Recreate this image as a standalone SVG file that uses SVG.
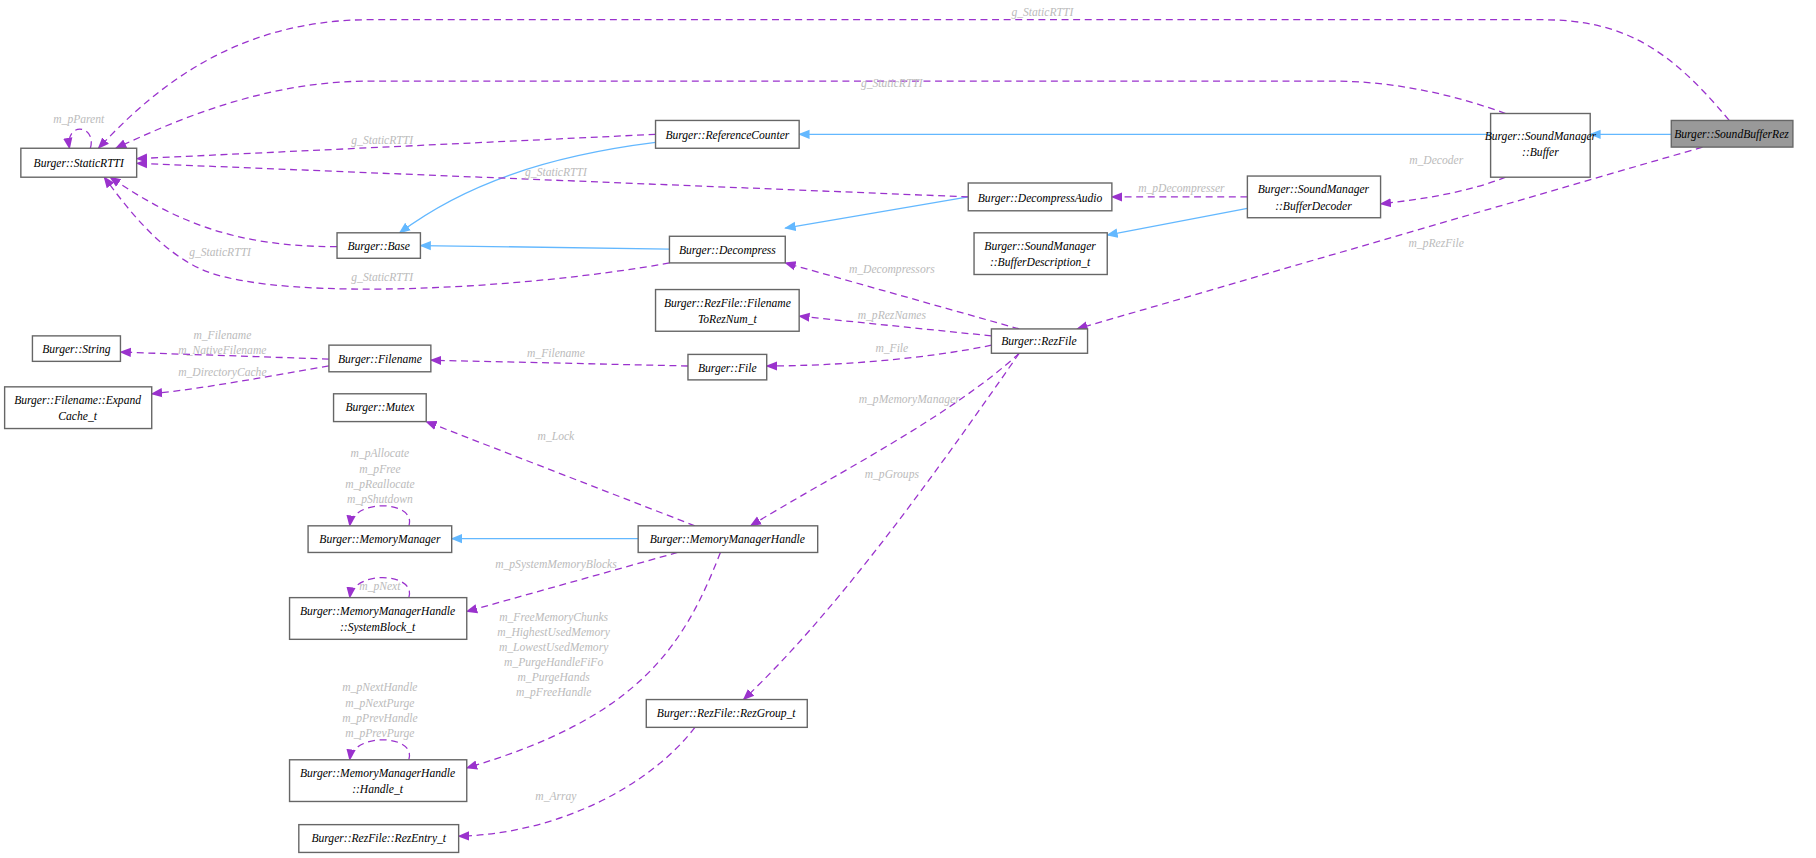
<svg xmlns="http://www.w3.org/2000/svg" width="1816" height="858" viewBox="0 0 1816 858">
<style>
.n rect{fill:#fff;stroke:#666;stroke-width:1.2}
.n text,.l{font-family:"Liberation Serif",serif;font-style:italic;font-size:10px;text-anchor:middle}
.l{fill:#bbb}
.d{fill:none;stroke:#9a32cd;stroke-dasharray:6,4;stroke-width:1.1;marker-end:url(#ap)}
.b{fill:none;stroke:#63b8ff;stroke-width:1.1;marker-end:url(#ab)}
</style>
<defs>
<marker id="ap" viewBox="0 0 10 10" refX="9" refY="5" markerWidth="10" markerHeight="10" markerUnits="userSpaceOnUse" orient="auto"><path d="M0,1L10,5L0,9z" fill="#9a32cd"/></marker>
<marker id="ab" viewBox="0 0 10 10" refX="9" refY="5" markerWidth="10" markerHeight="10" markerUnits="userSpaceOnUse" orient="auto"><path d="M0,1L10,5L0,9z" fill="#63b8ff"/></marker>
</defs>
<rect width="1816" height="858" fill="#fff"/>
<g transform="scale(1.1582)">
<g id="edges">
<path class="b" d="M1443,116L1373,116"/>
<path class="b" d="M1287,116L690,116"/>
<path class="b" d="M566,123C470,135 400,160 345,201"/>
<path class="b" d="M578,215L363,212"/>
<path class="b" d="M836,170L678,197"/>
<path class="b" d="M1077,180L956,203"/>
<path class="b" d="M551,465L390,465"/>
<path class="d" d="M1493,104C1440,40 1400,17 1330,17L320,17C200,17 130,80 85,128"/>
<path class="d" d="M1300,98C1250,80 1200,70 1150,70L320,70C240,70 170,95 100,128"/>
<path class="d" d="M566,116L118,137"/>
<path class="d" d="M836,170L118,141"/>
<path class="d" d="M291,213C200,213 150,190 95,153"/>
<path class="d" d="M578,227C450,250 250,260 180,235C140,220 110,180 90,153"/>
<path class="d" d="M78,128C84,108 56,104 60,128"/>
<path class="d" d="M1077,170L960,170"/>
<path class="d" d="M1300,153C1270,165 1230,172 1192,176"/>
<path class="d" d="M1470,127L930,284"/>
<path class="d" d="M880,284L678,227"/>
<path class="d" d="M856,290L690,273"/>
<path class="d" d="M856,298C800,310 720,316 662,316"/>
<path class="d" d="M594,316L372,311"/>
<path class="d" d="M284,310L104,304"/>
<path class="d" d="M284,316C230,325 180,335 131,340"/>
<path class="d" d="M880,305C820,360 720,410 648,454"/>
<path class="d" d="M600,454L368,364"/>
<path class="d" d="M353,454C360,432 305,430 302,454"/>
<path class="d" d="M585,477L403,528"/>
<path class="d" d="M353,516C360,494 305,492 302,516"/>
<path class="d" d="M622,477C590,560 550,620 403,663"/>
<path class="d" d="M353,656C360,634 305,632 302,656"/>
<path class="d" d="M880,305C800,420 720,530 642,604"/>
<path class="d" d="M600,628C560,680 480,720 396,722"/>
<text class="l" x="900" y="14">g_StaticRTTI</text>
<text class="l" x="770" y="75">g_StaticRTTI</text>
<text class="l" x="330" y="124">g_StaticRTTI</text>
<text class="l" x="480" y="152">g_StaticRTTI</text>
<text class="l" x="190" y="221">g_StaticRTTI</text>
<text class="l" x="330" y="243">g_StaticRTTI</text>
<text class="l" x="68" y="106">m_pParent</text>
<text class="l" x="1020" y="166">m_pDecompresser</text>
<text class="l" x="1240" y="142">m_Decoder</text>
<text class="l" x="1240" y="213">m_pRezFile</text>
<text class="l" x="770" y="236">m_Decompressors</text>
<text class="l" x="770" y="275">m_pRezNames</text>
<text class="l" x="770" y="304">m_File</text>
<text class="l" x="480" y="308">m_Filename</text>
<text class="l" x="192" y="293">m_Filename</text>
<text class="l" x="192" y="306">m_NativeFilename</text>
<text class="l" x="192" y="325">m_DirectoryCache</text>
<text class="l" x="785" y="348">m_pMemoryManager</text>
<text class="l" x="480" y="380">m_Lock</text>
<text class="l" x="328" y="395">m_pAllocate</text>
<text class="l" x="328" y="408">m_pFree</text>
<text class="l" x="328" y="421">m_pReallocate</text>
<text class="l" x="328" y="434">m_pShutdown</text>
<text class="l" x="480" y="490">m_pSystemMemoryBlocks</text>
<text class="l" x="328" y="509">m_pNext</text>
<text class="l" x="478" y="536">m_FreeMemoryChunks</text>
<text class="l" x="478" y="549">m_HighestUsedMemory</text>
<text class="l" x="478" y="562">m_LowestUsedMemory</text>
<text class="l" x="478" y="575">m_PurgeHandleFiFo</text>
<text class="l" x="478" y="588">m_PurgeHands</text>
<text class="l" x="478" y="601">m_pFreeHandle</text>
<text class="l" x="328" y="597">m_pNextHandle</text>
<text class="l" x="328" y="610">m_pNextPurge</text>
<text class="l" x="328" y="623">m_pPrevHandle</text>
<text class="l" x="328" y="636">m_pPrevPurge</text>
<text class="l" x="770" y="413">m_pGroups</text>
<text class="l" x="480" y="691">m_Array</text>
</g>
<g id="StaticRTTI" class="n"><rect x="18" y="128" width="100" height="25"/><text x="68" y="144">Burger::StaticRTTI</text></g>
<g id="ReferenceCounter" class="n"><rect x="566" y="104" width="124" height="24"/><text x="628" y="120">Burger::ReferenceCounter</text></g>
<g id="Buffer" class="n"><rect x="1287" y="98" width="86" height="55"/><text x="1330" y="121">Burger::SoundManager</text><text x="1330" y="135">::Buffer</text></g>
<g id="SoundBufferRez" class="n"><rect x="1443" y="104" width="105" height="23" style="fill:#999"/><text x="1495" y="119">Burger::SoundBufferRez</text></g>
<g id="DecompressAudio" class="n"><rect x="836" y="158" width="124" height="24"/><text x="898" y="174">Burger::DecompressAudio</text></g>
<g id="BufferDecoder" class="n"><rect x="1077" y="152" width="115" height="36"/><text x="1134" y="167">Burger::SoundManager</text><text x="1134" y="181">::BufferDecoder</text></g>
<g id="Base" class="n"><rect x="291" y="201" width="72" height="22"/><text x="327" y="216">Burger::Base</text></g>
<g id="Decompress" class="n"><rect x="578" y="204" width="100" height="23"/><text x="628" y="219">Burger::Decompress</text></g>
<g id="BufferDescription" class="n"><rect x="841" y="201" width="115" height="36"/><text x="898" y="216">Burger::SoundManager</text><text x="898" y="230">::BufferDescription_t</text></g>
<g id="FilenameToRezNum" class="n"><rect x="566" y="250" width="124" height="36"/><text x="628" y="265">Burger::RezFile::Filename</text><text x="628" y="279">ToRezNum_t</text></g>
<g id="RezFile" class="n"><rect x="856" y="284" width="83" height="21"/><text x="897" y="298">Burger::RezFile</text></g>
<g id="String" class="n"><rect x="28" y="290" width="76" height="22"/><text x="66" y="305">Burger::String</text></g>
<g id="Filename" class="n"><rect x="284" y="298" width="88" height="23"/><text x="328" y="313">Burger::Filename</text></g>
<g id="File" class="n"><rect x="594" y="306" width="68" height="22"/><text x="628" y="321">Burger::File</text></g>
<g id="ExpandCache" class="n"><rect x="4" y="334" width="127" height="36"/><text x="67" y="349">Burger::Filename::Expand</text><text x="67" y="363">Cache_t</text></g>
<g id="Mutex" class="n"><rect x="288" y="340" width="80" height="24"/><text x="328" y="355">Burger::Mutex</text></g>
<g id="MemoryManager" class="n"><rect x="266" y="454" width="124" height="23"/><text x="328" y="469">Burger::MemoryManager</text></g>
<g id="MemoryManagerHandle" class="n"><rect x="551" y="454" width="155" height="23"/><text x="628" y="469">Burger::MemoryManagerHandle</text></g>
<g id="SystemBlock" class="n"><rect x="250" y="516" width="153" height="36"/><text x="326" y="531">Burger::MemoryManagerHandle</text><text x="326" y="545">::SystemBlock_t</text></g>
<g id="RezGroup" class="n"><rect x="558" y="604" width="139" height="24"/><text x="627" y="619">Burger::RezFile::RezGroup_t</text></g>
<g id="Handle" class="n"><rect x="250" y="656" width="153" height="36"/><text x="326" y="671">Burger::MemoryManagerHandle</text><text x="326" y="685">::Handle_t</text></g>
<g id="RezEntry" class="n"><rect x="258" y="712" width="138" height="24"/><text x="327" y="727">Burger::RezFile::RezEntry_t</text></g>
</g>
</svg>
